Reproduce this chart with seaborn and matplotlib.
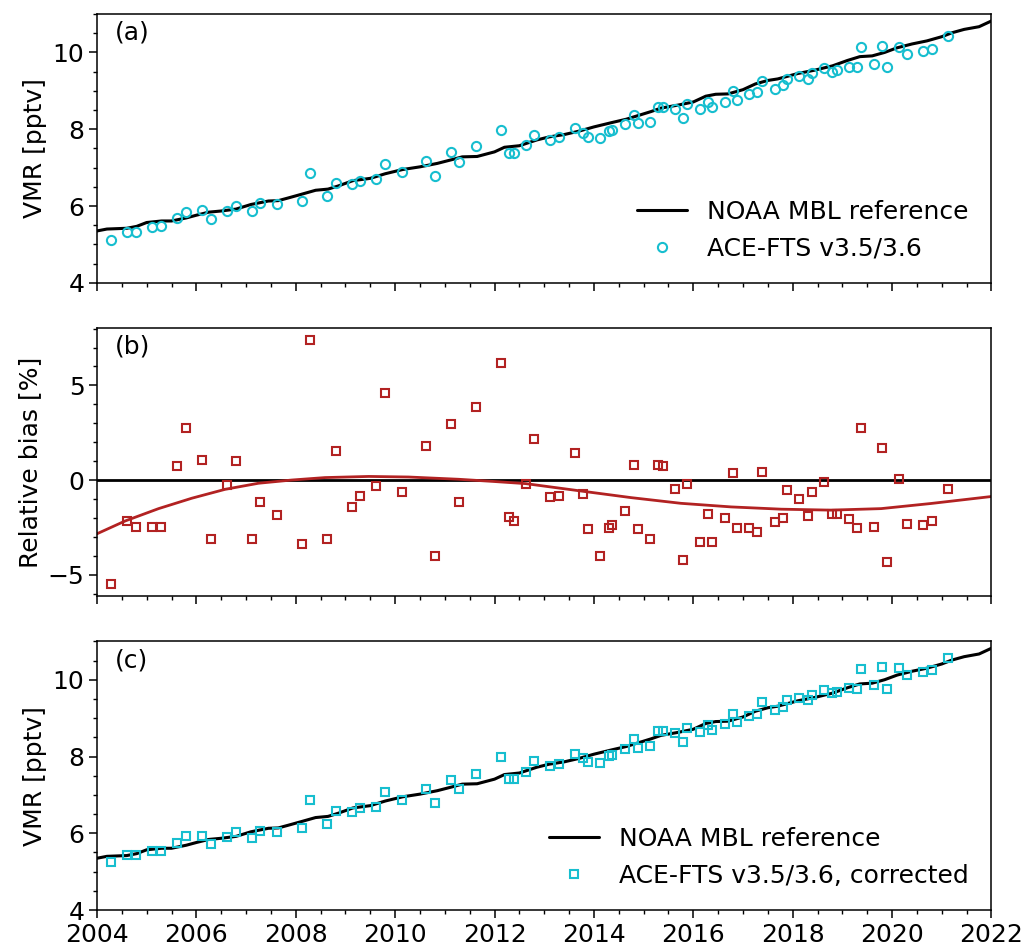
import numpy as np
import pandas as pd
import matplotlib
matplotlib.use("Agg")
import matplotlib.pyplot as plt
from matplotlib.ticker import MultipleLocator
import seaborn as sns

# ---------------- data ----------------
noaa_t = [2004.0, 2004.2, 2004.4, 2004.6, 2004.8, 2005.0, 2005.3, 2005.5, 2005.8, 2006.0,
          2006.25, 2006.5, 2006.8, 2007.1, 2007.45, 2007.65, 2007.85, 2008.1, 2008.4, 2008.65,
          2008.85, 2009.15, 2009.5, 2009.8, 2010.15, 2010.5, 2010.85, 2011.15, 2011.35, 2011.65,
          2012.0, 2012.2, 2012.5, 2012.85, 2013.1, 2013.4, 2013.7, 2014.0, 2014.35, 2014.65,
          2014.9, 2015.15, 2015.35, 2015.7, 2016.0, 2016.25, 2016.45, 2016.7, 2017.0, 2017.25,
          2017.5, 2017.7, 2018.1, 2018.45, 2018.8, 2019.1, 2019.35, 2019.6, 2019.85, 2020.1,
          2020.4, 2020.7, 2021.0, 2021.2, 2021.45, 2021.75, 2022.0]
noaa_vmr = [5.35, 5.40, 5.41, 5.42, 5.47, 5.57, 5.61, 5.61, 5.69, 5.76,
            5.84, 5.87, 5.92, 6.04, 6.13, 6.14, 6.21, 6.30, 6.41, 6.44,
            6.52, 6.66, 6.72, 6.84, 6.95, 7.02, 7.11, 7.21, 7.28, 7.29,
            7.41, 7.53, 7.57, 7.72, 7.80, 7.86, 7.95, 8.06, 8.17, 8.26,
            8.36, 8.46, 8.55, 8.63, 8.71, 8.86, 8.91, 8.92, 9.03, 9.18,
            9.27, 9.31, 9.45, 9.54, 9.65, 9.79, 9.89, 9.91, 10.00, 10.12,
            10.22, 10.30, 10.41, 10.51, 10.60, 10.67, 10.82]

ace_t = [2004.28, 2004.61, 2004.79, 2005.11, 2005.29, 2005.62, 2005.79, 2006.12, 2006.29, 2006.62,
         2006.79, 2007.12, 2007.29, 2007.63, 2008.12, 2008.29, 2008.63, 2008.80, 2009.13, 2009.30,
         2009.62, 2009.79, 2010.13, 2010.63, 2010.80, 2011.13, 2011.29, 2011.63, 2012.13, 2012.30,
         2012.39, 2012.63, 2012.80, 2013.12, 2013.30, 2013.62, 2013.79, 2013.88, 2014.13, 2014.30,
         2014.37, 2014.63, 2014.80, 2014.88, 2015.13, 2015.29, 2015.39, 2015.63, 2015.80, 2015.88,
         2016.13, 2016.30, 2016.38, 2016.63, 2016.80, 2016.88, 2017.13, 2017.29, 2017.38, 2017.64,
         2017.80, 2017.89, 2018.13, 2018.30, 2018.39, 2018.63, 2018.80, 2018.89, 2019.14, 2019.30,
         2019.38, 2019.63, 2019.79, 2019.89, 2020.13, 2020.30, 2020.62, 2020.80, 2021.13]

ace_vmr = [5.11, 5.33, 5.33, 5.45, 5.48, 5.68, 5.85, 5.89, 5.67, 5.88,
           6.00, 5.87, 6.07, 6.04, 6.13, 6.86, 6.25, 6.60, 6.57, 6.66,
           6.70, 7.10, 6.89, 7.16, 6.79, 7.40, 7.15, 7.55, 7.98, 7.39,
           7.39, 7.58, 7.84, 7.72, 7.79, 8.02, 7.91, 7.79, 7.78, 7.96,
           7.99, 8.13, 8.38, 8.15, 8.19, 8.58, 8.58, 8.52, 8.28, 8.65,
           8.52, 8.71, 8.59, 8.72, 8.99, 8.77, 8.93, 8.97, 9.26, 9.05,
           9.14, 9.32, 9.38, 9.30, 9.47, 9.59, 9.49, 9.54, 9.63, 9.61,
           10.14, 9.70, 10.17, 9.61, 10.15, 9.96, 10.03, 10.09, 10.43]

rel_bias = [-5.47, -2.19, -2.46, -2.46, -2.47, 0.75, 2.74, 1.05, -3.14, -0.28,
            0.98, -3.14, -1.16, -1.86, -3.37, 7.40, -3.11, 1.56, -1.40, -0.86,
            -0.32, 4.61, -0.65, 1.82, -4.02, 2.98, -1.14, 3.84, 6.21, -1.93,
            -2.14, -0.21, 2.19, -0.89, -0.84, 1.44, -0.72, -2.61, -4.02, -2.54,
            -2.40, -1.63, 0.82, -2.58, -3.09, 0.79, 0.75, -0.46, -4.23, -0.21,
            -3.25, -1.82, -3.25, -1.98, 0.35, -2.54, -2.54, -2.74, 0.40, -2.23,
            -1.98, -0.51, -1.02, -1.91, -0.63, -0.12, -1.82, -1.77, -2.04, -2.54,
            2.75, -2.49, 1.68, -4.32, 0.05, -2.32, -2.40, -2.18, -0.47]

fit_t = [2004.0, 2004.57, 2005.24, 2005.91, 2006.58, 2007.25, 2007.92, 2008.59, 2009.47, 2010.27,
         2011.28, 2011.95, 2012.63, 2013.74, 2014.75, 2015.75, 2016.76, 2017.77, 2018.77, 2019.78,
         2020.78, 2022.0]
fit_bias = [-2.84, -2.16, -1.51, -0.96, -0.49, -0.17, 0.0, 0.13, 0.19, 0.16,
            0.04, -0.07, -0.19, -0.58, -0.93, -1.23, -1.42, -1.54, -1.59, -1.51,
            -1.24, -0.87]

ace_corr = [5.25, 5.43, 5.43, 5.55, 5.55, 5.76, 5.92, 5.94, 5.73, 5.91,
            6.03, 5.89, 6.07, 6.04, 6.13, 6.86, 6.25, 6.59, 6.56, 6.65,
            6.69, 7.08, 6.88, 7.15, 6.78, 7.39, 7.15, 7.55, 7.98, 7.41,
            7.41, 7.59, 7.87, 7.76, 7.81, 8.06, 7.95, 7.85, 7.84, 8.02,
            8.05, 8.20, 8.45, 8.22, 8.27, 8.66, 8.66, 8.62, 8.38, 8.75,
            8.64, 8.82, 8.70, 8.84, 9.11, 8.89, 9.05, 9.10, 9.41, 9.21,
            9.29, 9.46, 9.53, 9.46, 9.61, 9.74, 9.65, 9.69, 9.78, 9.77,
            10.29, 9.87, 10.34, 9.76, 10.31, 10.12, 10.19, 10.25, 10.57]

noaa_label = "NOAA MBL reference"
ace_label = "ACE-FTS v3.5/3.6"
corr_label = "ACE-FTS v3.5/3.6, corrected"
panel_labels = ["(a)", "(b)", "(c)"]

# ---------------- style ----------------
sns.set_style("ticks")
plt.rcParams["font.family"] = ["DejaVu Sans"]
plt.rcParams.update({
    "font.size": 18,
    "text.color": "black",
    "axes.labelcolor": "black",
    "axes.linewidth": 1.1,
    "xtick.major.size": 5.5, "ytick.major.size": 5.5,
    "xtick.minor.size": 2.8, "ytick.minor.size": 2.8,
    "xtick.major.width": 1.1, "ytick.major.width": 1.1,
    "xtick.minor.width": 1.0, "ytick.minor.width": 1.0,
    "axes.edgecolor": "black",
    "xtick.color": "black", "ytick.color": "black",
    "xtick.labelcolor": "black", "ytick.labelcolor": "black",
})

CYAN = "#17becf"
RED = "#b22222"

df_noaa = pd.DataFrame({"t": noaa_t, "v": noaa_vmr})
df_ace = pd.DataFrame({"t": ace_t, "v": ace_vmr, "b": rel_bias, "c": ace_corr})
df_fit = pd.DataFrame({"t": fit_t, "b": fit_bias})

fig, axes = plt.subplots(3, 1, figsize=(10.25, 9.48), dpi=100, sharex=True)
fig.subplots_adjust(left=0.0946, right=0.9673, top=0.9852, bottom=0.040, hspace=0.167)
ax_a, ax_b, ax_c = axes

# (a)
sns.lineplot(data=df_noaa, x="t", y="v", ax=ax_a, color="black", lw=2.2,
             label=noaa_label, sort=False, estimator=None)
sns.lineplot(data=df_ace, x="t", y="v", ax=ax_a, color=CYAN, linestyle="none",
             marker="o", markersize=6.6, markerfacecolor="none",
             markeredgecolor=CYAN, markeredgewidth=1.5,
             label=ace_label, sort=False, estimator=None)

# (b)
ax_b.axhline(0, color="black", lw=2.0, zorder=1)
sns.lineplot(data=df_ace, x="t", y="b", ax=ax_b, color=RED, linestyle="none",
             marker="s", markersize=6.2, markerfacecolor="none",
             markeredgecolor=RED, markeredgewidth=1.5,
             sort=False, estimator=None, legend=False)
sns.lineplot(data=df_fit, x="t", y="b", ax=ax_b, color=RED, lw=2.0,
             sort=False, estimator=None, legend=False)

# (c)
sns.lineplot(data=df_noaa, x="t", y="v", ax=ax_c, color="black", lw=2.2,
             label=noaa_label, sort=False, estimator=None)
sns.lineplot(data=df_ace, x="t", y="c", ax=ax_c, color=CYAN, linestyle="none",
             marker="s", markersize=6.2, markerfacecolor="none",
             markeredgecolor=CYAN, markeredgewidth=1.5,
             label=corr_label, sort=False, estimator=None)

for ax, lab in zip(axes, panel_labels):
    ax.set_xlim(2004, 2022)
    ax.xaxis.set_major_locator(MultipleLocator(2))
    ax.xaxis.set_minor_locator(MultipleLocator(0.5))
    ax.set_xlabel("")
    ax.text(0.02, 0.975, lab, transform=ax.transAxes, va="top", ha="left",
            fontsize=18, color="black")
    for s in ax.spines.values():
        s.set_visible(True)
        s.set_color("black")

for ax in (ax_a, ax_c):
    ax.set_ylim(4, 11)
    ax.yaxis.set_major_locator(MultipleLocator(2))
    ax.yaxis.set_minor_locator(MultipleLocator(0.5))
    ax.set_ylabel("VMR [pptv]", color="black")
    leg = ax.legend(loc="lower right", frameon=False, fontsize=18)
    for txt in leg.get_texts():
        txt.set_color("black")

ax_b.set_ylim(-6.15, 8.05)
ax_b.yaxis.set_major_locator(MultipleLocator(5))
ax_b.yaxis.set_minor_locator(MultipleLocator(1))
ax_b.set_ylabel("Relative bias [%]", color="black")

ax_c.set_xticks([2004, 2006, 2008, 2010, 2012, 2014, 2016, 2018, 2020, 2022])
ax_c.set_xticklabels(["2004", "2006", "2008", "2010", "2012", "2014", "2016", "2018", "2020", "2022"])

fig.savefig("out.png", dpi=100)
